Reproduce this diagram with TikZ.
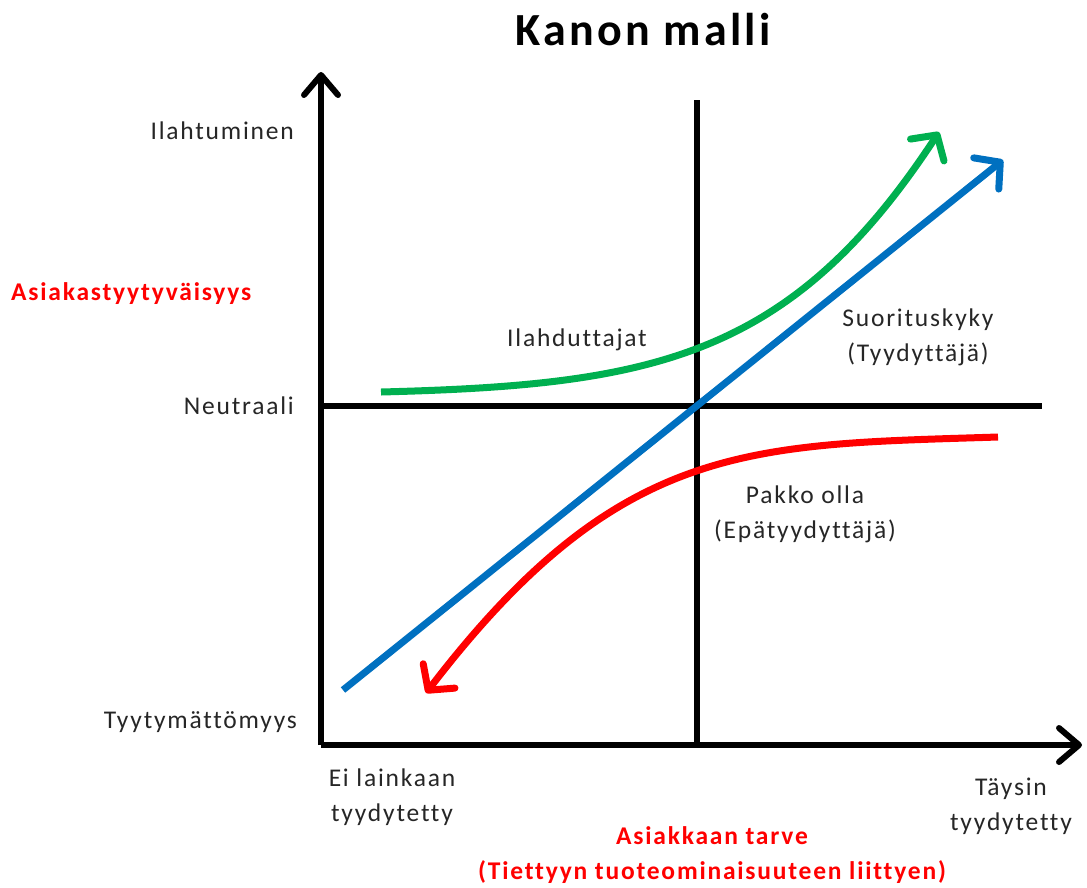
\documentclass[tikz,border=0pt]{standalone}
\usepackage{fontspec}
\setmainfont{Carlito}[LetterSpace=7,Ligatures=NoCommon]
\usetikzlibrary{arrows.meta}
\definecolor{kgreen}{RGB}{0,176,80}
\definecolor{kblue}{RGB}{0,112,192}
\definecolor{kred}{RGB}{255,0,0}
\begin{document}
\begin{tikzpicture}[x=1pt,y=-1pt,
  tip/.style={-{Straight Barb[length=18pt,width=40pt,line cap=round,line join=round]}},
  axistip/.style={-{Straight Barb[length=20pt,width=34pt,line cap=round,line join=round]}},
  axis/.style={line width=6pt,axistip},
  divider/.style={line width=6pt},
  curve/.style={line width=7pt,tip},
  lbl/.style={font=\fontsize{25.5}{35}\selectfont,text=black!85,align=center,inner sep=0pt},
  redlbl/.style={font=\bfseries\fontsize{25.5}{35}\selectfont,text=kred,align=center,inner sep=0pt}]
\useasboundingbox (0,0) rectangle (1087,887);

% axes
\coordinate (origin) at (321,745);
\coordinate (ytop) at (321,72);
\coordinate (xend) at (1082,745);
\draw[axis] (origin) -- (ytop);
\draw[axis] (origin) -- (xend);

% quadrant dividers
\coordinate (vtop) at (697,100);
\coordinate (vbot) at (697,745);
\coordinate (hleft) at (321,406);
\coordinate (hright) at (1042,406);
\draw[divider] (vtop) -- (vbot);
\draw[divider] (hleft) -- (hright);

% curves
\coordinate (b0) at (343,690);
\coordinate (b1) at (1003,160);
\draw[curve,kblue] (b0) -- (b1);

\coordinate (g0) at (381,392);
\coordinate (g1) at (939,132);
\draw[curve,kgreen] (g0) .. controls (650,385) and (790,360) .. (g1);

\coordinate (r0) at (998,437);
\coordinate (r1) at (426,693);
\draw[curve,kred] (r0) .. controls (750,445) and (620,440) .. (r1);

% title
\node[font=\bfseries\fontsize{46}{54}\selectfont,inner sep=0pt] (title) at (643,30) {Kanon malli};

% vertical axis labels
\node[lbl,anchor=east] (ilahtuminen) at (294,131) {Ilahtuminen};
\node[redlbl,anchor=west] (asty) at (11,294) {Asiakastyytyväisyys};
\node[lbl,anchor=east] (neutraali) at (294,406) {Neutraali};
\node[lbl,anchor=east] (tyyt) at (297,722) {Tyytymättömyys};

% horizontal axis labels
\node[lbl] (eilain) at (392,797) {Ei lainkaan\\tyydytetty};
\node[lbl] (taysin) at (1011,806) {Täysin\\tyydytetty};
\node[redlbl] (tarve) at (712,855) {Asiakkaan tarve\\(Tiettyyn tuoteominaisuuteen liittyen)};

% curve labels
\node[lbl] (ilahd) at (577,340) {Ilahduttajat};
\node[lbl] (suor) at (918,337) {Suorituskyky\\(Tyydyttäjä)};
\node[lbl] (pakko) at (805,514) {Pakko olla\\(Epätyydyttäjä)};
\end{tikzpicture}
\end{document}
